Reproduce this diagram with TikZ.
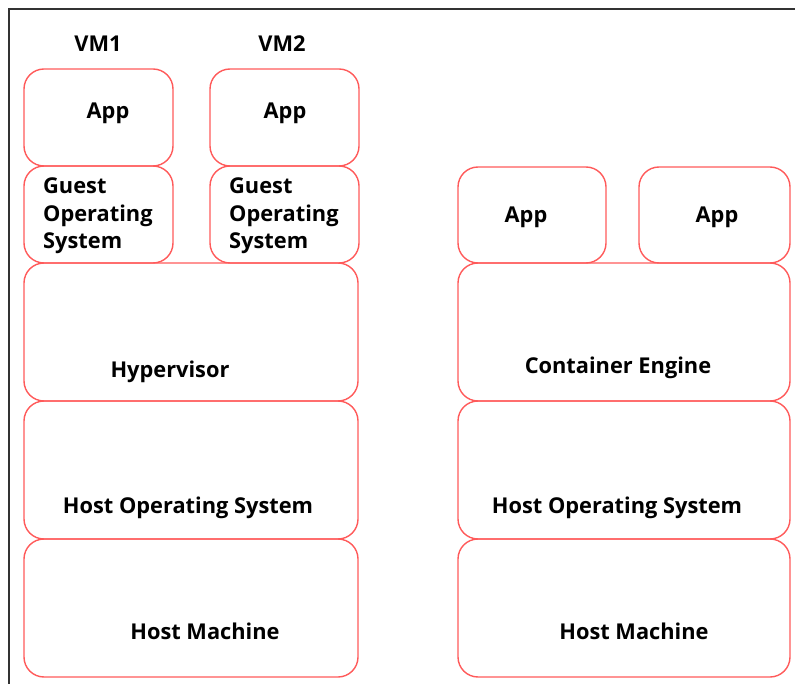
\documentclass[tikz,border=0pt]{standalone}
\usepackage{fontspec}
\setmainfont{Open Sans}
\begin{document}
\begin{tikzpicture}[x=1pt,y=-1pt,
  layer/.style={draw=boxred, line width=1.4pt, rounded corners=20pt},
  lbl/.style={font=\bfseries\fontsize{21.8}{27.5}\selectfont, inner sep=0pt},
  frame/.style={draw=black!80, line width=1.6pt}]
\definecolor{boxred}{RGB}{255,90,90}
\useasboundingbox (0,0) rectangle (795,684);
\draw[frame] (9,684) -- (9,9) -- (795,9);
% left stack
\draw[layer] (24,69) rectangle (173,166);
\draw[layer] (210,69) rectangle (359,166);
\draw[layer] (24,166) rectangle (173,263);
\draw[layer] (210,166) rectangle (359,263);
\draw[layer] (24,263) rectangle (358,401);
\draw[layer] (24,401) rectangle (358,539);
\draw[layer] (24,539) rectangle (358,677);
% right stack
\draw[layer] (458,167) rectangle (606,263);
\draw[layer] (639,167) rectangle (790,263);
\draw[layer] (458,263) rectangle (790,401);
\draw[layer] (458,401) rectangle (790,539);
\draw[layer] (458,539) rectangle (790,677);
% labels
\node[lbl] (vm1) at (98,44) {VM1};
\node[lbl] (vm2) at (282,44) {VM2};
\node[lbl] (app1) at (108,113) {App};
\node[lbl] (app2) at (285,113) {App};
\node[lbl, anchor=north west, align=left] (gos1) at (43,178) {Guest\\Operating\\System};
\node[lbl, anchor=north west, align=left] (gos2) at (229,178) {Guest\\Operating\\System};
\node[lbl] (hyp) at (170,372) {Hypervisor};
\node[lbl] (hos1) at (188,508) {Host Operating System};
\node[lbl] (hm1) at (205,631) {Host Machine};
\node[lbl] (app3) at (526,217) {App};
\node[lbl] (app4) at (717,217) {App};
\node[lbl] (ce) at (618,368) {Container Engine};
\node[lbl] (hos2) at (617,508) {Host Operating System};
\node[lbl] (hm2) at (634,631) {Host Machine};
\end{tikzpicture}
\end{document}
